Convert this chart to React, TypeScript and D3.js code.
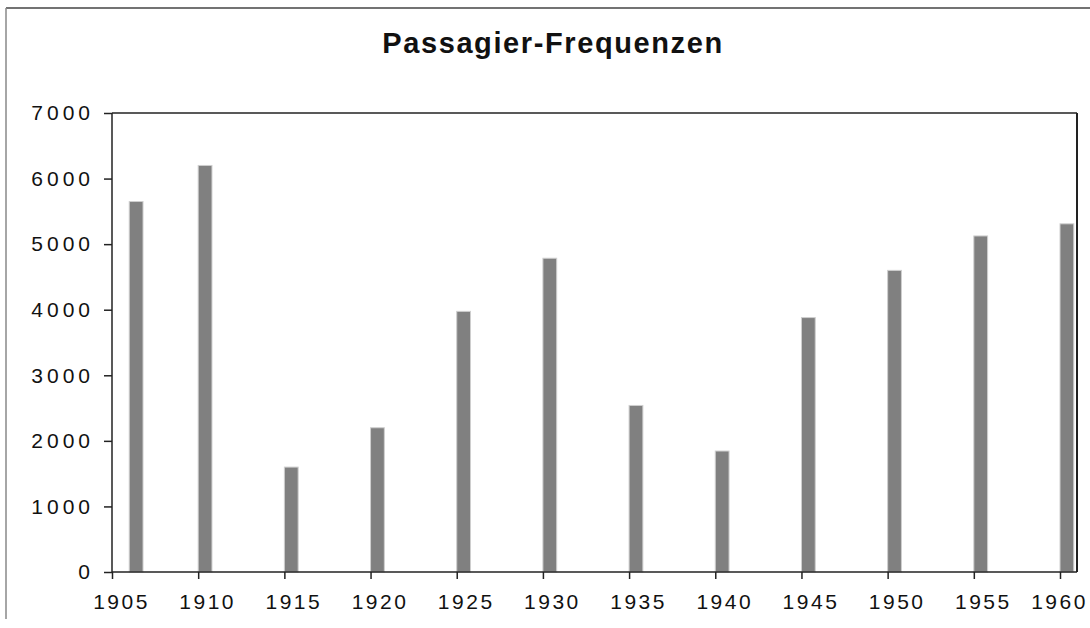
import React, { useEffect, useRef } from "react";
import * as d3 from "d3";

const title = "Passagier-Frequenzen";
const years = [1906, 1910, 1915, 1920, 1925, 1930, 1935, 1940, 1945, 1950, 1955, 1960];
const passengers = [5650, 6200, 1600, 2200, 3975, 4785, 2540, 1845, 3880, 4600, 5125, 5310];
const xTicks = [1905, 1910, 1915, 1920, 1925, 1930, 1935, 1940, 1945, 1950, 1955, 1960];
const yTicks = [0, 1000, 2000, 3000, 4000, 5000, 6000, 7000];

const W = 1090;
const H = 628;
const left = 112;
const right = 1077;
const top = 113;
const bottom = 572;
const font = "'Liberation Sans', Arial, Helvetica, sans-serif";

export default function App() {
  const xRef = useRef<SVGGElement>(null);
  const yRef = useRef<SVGGElement>(null);

  const x = d3.scaleLinear().domain([1905, 1960]).range([left, 1060]);
  const y = d3.scaleLinear().domain([0, 7000]).range([bottom, top]);
  const barW = x(1905.8) - x(1905);

  useEffect(() => {
    const gx = d3.select(xRef.current);
    gx.call(
      d3.axisBottom(x).tickValues(xTicks).tickFormat(d3.format("d")).tickSize(7).tickSizeOuter(0).tickPadding(15)
    );
    gx.select(".domain").remove();
    gx.selectAll(".tick line").attr("stroke", "#222").attr("stroke-width", 1.5);
    gx.selectAll(".tick text")
      .attr("font-family", font)
      .attr("font-size", 21)
      .attr("letter-spacing", "2.5px")
      .attr("dx", (d: any) => (d === 1960 ? -1 : 9))
      .attr("fill", "#111");

    const gy = d3.select(yRef.current);
    gy.call(
      d3.axisLeft(y).tickValues(yTicks).tickFormat(d3.format("d")).tickSize(8).tickSizeOuter(0).tickPadding(10)
    );
    gy.select(".domain").remove();
    gy.selectAll(".tick line").attr("stroke", "#222").attr("stroke-width", 1.5);
    gy.selectAll(".tick text")
      .attr("font-family", font)
      .attr("font-size", 21)
      .attr("letter-spacing", "4px")
      .attr("fill", "#111");
  }, []);

  return (
    <svg width={W} height={H} style={{ position: "absolute", left: 0, top: 0, background: "#fff" }}>
      <rect width={W} height={H} fill="#fff" />
      {/* outer frame, only top and left edges show */}
      <line x1={6} x2={W} y1={8} y2={8} stroke="#444" strokeWidth={1.5} />
      <line x1={6} x2={6} y1={8} y2={619} stroke="#888" strokeWidth={1.5} />

      <text
        x={553}
        y={53}
        textAnchor="middle"
        fontFamily={font}
        fontWeight="bold"
        fontSize={29}
        letterSpacing="1.6px"
        fill="#111"
      >
        {title}
      </text>

      <g>
        {years.map((yr, i) => (
          <rect
            key={yr}
            x={x(yr)}
            y={y(passengers[i])}
            width={barW}
            height={bottom - y(passengers[i])}
            fill="#808080"
            stroke="#cfcfcf"
            strokeWidth={1}
          />
        ))}
      </g>

      {/* plot frame */}
      <line x1={left} x2={right} y1={top} y2={top} stroke="#222" strokeWidth={1.5} />
      <line x1={right} x2={right} y1={top} y2={bottom} stroke="#222" strokeWidth={2} />
      <line x1={left} x2={left} y1={top} y2={bottom} stroke="#222" strokeWidth={1.5} />
      <line x1={left} x2={right} y1={bottom} y2={bottom} stroke="#222" strokeWidth={1.5} />

      <g ref={xRef} transform={`translate(0,${bottom})`} />
      <g ref={yRef} transform={`translate(${left},0)`} />
    </svg>
  );
}
